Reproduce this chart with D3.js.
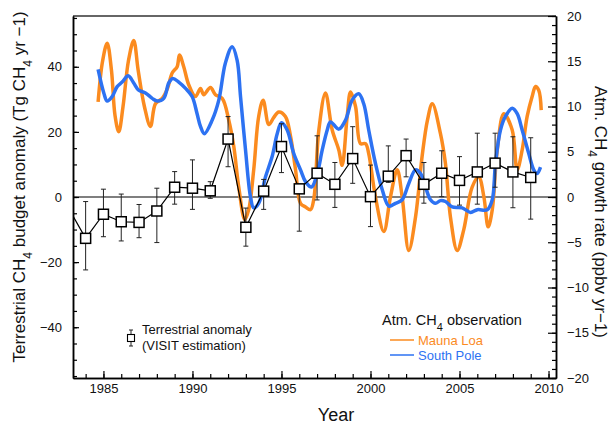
<!DOCTYPE html>
<html>
<head>
<meta charset="utf-8">
<script src="https://cdn.jsdelivr.net/npm/d3@7"></script>
<style>
    body { margin: 0; background: #fff; }
    text { font-family: "Liberation Sans", Arial, sans-serif; fill: #111; }
</style>
</head>
<body>
<div id="chart"></div>
<script>
// terrestrial anomaly (VISIT), Tg CH4 / yr, with error bar ends
const anomalyYears = d3.range(1983, 2010);
const anomaly = [-3, -12.7, -5.3, -7.6, -7.8, -4.3, 3.0, 2.7, 1.9, 17.8, -9.3, 1.8, 15.5, 2.5, 7.3, 3.9, 11.8, 0.1, 6.4, 12.7, 3.9, 7.3, 5.1, 7.7, 10.4, 7.7, 6.0];
const anomalyHigh = [5, -1.4, 2.4, 0.9, -2.3, 2.7, 7.8, 11.4, 4.7, 24.7, -3.4, 5.4, 22.5, 3.5, 18.8, 10.6, 21.6, 9.8, 15.7, 17.8, 10.6, 14.2, 12.4, 19.6, 19.6, 18.5, 18.2];
const anomalyLow = [-11, -22.4, -12.2, -13.5, -12.5, -14, -2.2, -3.8, -0.4, 9.3, -15.1, -3.8, 7.5, -10.5, -0.9, -3.2, 4.2, -9.1, 4.5, 6.2, -1.9, 0.1, -2.5, -2.2, 3.0, -3.3, -6.8];

// atmospheric CH4 growth rate, ppbv / yr  [year, rate]
const maunaLoa = [
    [1984.70, 10.5], [1984.95, 15.0], [1985.21, 17.0], [1985.45, 14.0], [1985.65, 9.0], [1985.86, 7.2],
    [1986.10, 10.0], [1986.40, 15.0], [1986.70, 17.3], [1986.95, 14.0], [1987.30, 10.0], [1987.64, 7.8],
    [1987.92, 10.3], [1988.30, 10.9], [1988.60, 12.0], [1988.86, 13.7], [1989.14, 14.4], [1989.27, 15.7],
    [1989.51, 14.4], [1989.79, 12.4], [1990.17, 11.1], [1990.45, 12.0], [1990.63, 11.3], [1991.01, 12.1],
    [1991.29, 11.3], [1991.67, 10.9], [1992.04, 8.5], [1992.32, 5.6], [1992.60, 1.1], [1992.94, -2.5],
    [1993.16, -1.4], [1993.44, 3.0], [1993.72, 8.9], [1993.97, 10.7], [1994.29, 8.0], [1994.57, 8.8],
    [1994.85, 9.4], [1995.22, 8.9], [1995.51, 6.7], [1995.79, 3.0], [1996.07, -0.7], [1996.35, -1.1],
    [1996.63, -1.4], [1996.81, -0.3], [1997.10, 7.4], [1997.47, 11.5], [1997.85, 7.4], [1998.22, 5.2],
    [1998.41, 3.5], [1998.69, 8.9], [1998.88, 11.6], [1999.16, 10.0], [1999.44, 5.9], [1999.72, 5.9],
    [1999.90, 4.8], [2000.28, 0.0], [2000.75, -3.8], [2001.12, 0.0], [2001.50, 3.0], [2001.78, 0.0],
    [2002.15, -5.9], [2002.53, -2.2], [2002.90, 4.5], [2003.20, 8.5], [2003.47, 10.3], [2003.93, 7.0],
    [2004.21, 3.7], [2004.49, -2.2], [2004.87, -5.9], [2005.24, -3.6], [2005.71, 1.1], [2006.08, 2.2],
    [2006.37, 0.0], [2006.61, -3.3], [2006.84, -1.4], [2007.12, 5.2], [2007.49, 9.2], [2007.96, 7.4],
    [2008.24, 3.0], [2008.52, 5.2], [2008.80, 8.9], [2009.08, 11.1], [2009.27, 12.2], [2009.45, 11.8],
    [2009.59, 9.6]
];
const southPole = [
    [1984.70, 14.1], [1985.02, 11.5], [1985.21, 10.6], [1985.49, 11.1], [1985.77, 12.2], [1986.05, 12.7],
    [1986.39, 13.4], [1986.70, 12.6], [1986.98, 11.8], [1987.36, 11.5], [1987.74, 10.9], [1988.02, 10.6],
    [1988.39, 10.9], [1988.67, 12.6], [1988.89, 13.1], [1989.23, 12.7], [1989.61, 12.0], [1989.98, 11.1],
    [1990.26, 9.2], [1990.45, 7.8], [1990.67, 7.0], [1991.11, 8.5], [1991.48, 10.7], [1991.85, 14.8],
    [1992.23, 16.6], [1992.51, 15.1], [1992.70, 11.1], [1992.98, 5.2], [1993.26, 0.0], [1993.44, -1.2],
    [1993.72, -0.7], [1994.10, 2.2], [1994.48, 4.5], [1994.76, 7.0], [1995.00, 8.2], [1995.32, 7.4],
    [1995.69, 4.8], [1996.07, 3.0], [1996.35, 1.7], [1996.69, 1.1], [1997.01, 2.6], [1997.29, 5.2],
    [1997.57, 7.4], [1997.75, 8.3], [1998.22, 7.5], [1998.60, 8.5], [1998.97, 10.7], [1999.34, 11.4],
    [1999.62, 10.3], [1999.90, 7.4], [2000.28, 3.7], [2000.66, 0.8], [2001.03, -1.0], [2001.40, -0.7],
    [2001.78, -0.3], [2002.15, 1.5], [2002.53, 3.0], [2002.81, 2.6], [2003.09, 1.1], [2003.37, -0.3],
    [2003.65, -0.7], [2003.93, -0.4], [2004.21, -0.5], [2004.59, -1.1], [2005.15, -1.2], [2005.62, -1.7],
    [2006.00, -1.4], [2006.56, -1.4], [2006.84, -0.3], [2007.02, 3.7], [2007.30, 7.4], [2007.58, 8.9],
    [2007.96, 9.8], [2008.24, 9.2], [2008.52, 7.4], [2008.89, 4.8], [2009.17, 3.0], [2009.36, 2.6],
    [2009.55, 3.3]
];

const xTickLabels = [1985, 1990, 1995, 2000, 2005, 2010];
const leftTickLabels = [-40, -20, 0, 20, 40];
const rightTickLabels = [-20, -15, -10, -5, 0, 5, 10, 15, 20];

const orange = "#fb8b1f";
const blue = "#2d72f2";

const width = 611, height = 424;
const margin = { top: 16, right: 55, bottom: 46, left: 73 };
const x0 = margin.left, x1 = width - margin.right;
const y0 = margin.top, y1 = height - margin.bottom;

const svg = d3.select("#chart").append("svg")
    .attr("width", width)
    .attr("height", height);

const x = d3.scaleLinear().domain([1983.29, 2010.42]).range([x0, x1]);
const yL = d3.scaleLinear().domain([-55.6, 55.6]).range([y1, y0]); // 1 ppbv ~ 2.78 Tg
const yR = d3.scaleLinear().domain([-20, 20]).range([y1, y0]);

svg.append("clipPath").attr("id", "plotClip")
    .append("rect")
    .attr("x", x0).attr("y", y0)
    .attr("width", x1 - x0).attr("height", y1 - y0);

// top frame line
svg.append("line")
    .attr("x1", x0).attr("x2", x1)
    .attr("y1", y0).attr("y2", y0)
    .attr("stroke", "#333").attr("stroke-width", 1.5);

// zero line
svg.append("line")
    .attr("x1", x0).attr("x2", x1)
    .attr("y1", yL(0)).attr("y2", yL(0))
    .attr("stroke", "#000").attr("stroke-width", 1.2);

function styleAxis(g) {
    g.selectAll("path.domain").attr("stroke", "#000").attr("stroke-width", 1.5);
    g.selectAll(".tick line").attr("stroke", "#000").attr("stroke-width", 1.2);
    g.selectAll("text").style("font-family", '"Liberation Sans", Arial, sans-serif')
        .style("font-size", "13px").attr("fill", "#111");
}

// x axis: minor ticks every year, labels every 5
svg.append("g")
    .attr("transform", `translate(0,${y1})`)
    .call(d3.axisBottom(x).tickValues(d3.range(1984, 2011)).tickSize(-4).tickSizeOuter(0).tickFormat(""))
    .call(styleAxis);
svg.append("g")
    .attr("transform", `translate(0,${y1})`)
    .call(d3.axisBottom(x).tickValues(xTickLabels).tickSize(-7).tickSizeOuter(0).tickPadding(6).tickFormat(d3.format("d")))
    .call(styleAxis);

// left axis
svg.append("g")
    .attr("transform", `translate(${x0},0)`)
    .call(d3.axisLeft(yL).tickValues(d3.range(-55, 56, 5)).tickSize(-4).tickSizeOuter(0).tickFormat(""))
    .call(styleAxis);
svg.append("g")
    .attr("transform", `translate(${x0},0)`)
    .call(d3.axisLeft(yL).tickValues(leftTickLabels).tickSize(-6).tickSizeOuter(0).tickPadding(11))
    .call(styleAxis);

// right axis
svg.append("g")
    .attr("transform", `translate(${x1},0)`)
    .call(d3.axisRight(yR).tickValues(d3.range(-20, 21, 1)).tickSize(-4).tickSizeOuter(0).tickFormat(""))
    .call(styleAxis);
svg.append("g")
    .attr("transform", `translate(${x1},0)`)
    .call(d3.axisRight(yR).tickValues(rightTickLabels).tickSize(-8).tickSizeOuter(0).tickPadding(11))
    .call(styleAxis);

const plot = svg.append("g").attr("clip-path", "url(#plotClip)");

// observation curves
const rateLine = d3.line()
    .x(d => x(d[0]))
    .y(d => yR(d[1]))
    .curve(d3.curveCatmullRom.alpha(0.5));

plot.append("path").datum(maunaLoa)
    .attr("d", rateLine)
    .attr("fill", "none").attr("stroke", orange)
    .attr("stroke-width", 3.5).attr("stroke-linejoin", "round");

plot.append("path").datum(southPole)
    .attr("d", rateLine)
    .attr("fill", "none").attr("stroke", blue)
    .attr("stroke-width", 3.5).attr("stroke-linejoin", "round");

// terrestrial anomaly
const anomalyData = anomalyYears.map((yr, i) => ({
    year: yr, value: anomaly[i], hi: anomalyHigh[i], lo: anomalyLow[i]
}));

const bars = plot.append("g").attr("stroke", "#222").attr("stroke-width", 1);
bars.selectAll("line.err")
    .data(anomalyData).enter().append("line")
    .attr("class", "err")
    .attr("x1", d => x(d.year)).attr("x2", d => x(d.year))
    .attr("y1", d => yL(d.hi)).attr("y2", d => yL(d.lo));
bars.selectAll("line.capHi")
    .data(anomalyData).enter().append("line")
    .attr("x1", d => x(d.year) - 2.5).attr("x2", d => x(d.year) + 2.5)
    .attr("y1", d => yL(d.hi)).attr("y2", d => yL(d.hi));
bars.selectAll("line.capLo")
    .data(anomalyData).enter().append("line")
    .attr("x1", d => x(d.year) - 2.5).attr("x2", d => x(d.year) + 2.5)
    .attr("y1", d => yL(d.lo)).attr("y2", d => yL(d.lo));

plot.append("path").datum(anomalyData)
    .attr("d", d3.line().x(d => x(d.year)).y(d => yL(d.value)))
    .attr("fill", "none").attr("stroke", "#000").attr("stroke-width", 1.2);

plot.selectAll("rect.marker")
    .data(anomalyData).enter().append("rect")
    .attr("class", "marker")
    .attr("x", d => x(d.year) - 5).attr("y", d => yL(d.value) - 5)
    .attr("width", 10).attr("height", 10)
    .attr("fill", "#fff").attr("stroke", "#000").attr("stroke-width", 1.5);

// axis titles
const leftTitle = svg.append("text")
    .attr("transform", "translate(25,187) rotate(-90)")
    .attr("text-anchor", "middle")
    .style("font-size", "17px");
leftTitle.append("tspan").text("Terrestrial CH");
leftTitle.append("tspan").text("4").attr("baseline-shift", "sub").style("font-size", "12px");
leftTitle.append("tspan").text(" budget anomaly (Tg CH");
leftTitle.append("tspan").text("4").attr("baseline-shift", "sub").style("font-size", "12px");
leftTitle.append("tspan").text(" yr \u22121)");

const rightTitle = svg.append("text")
    .attr("transform", "translate(595,212) rotate(90)")
    .attr("text-anchor", "middle")
    .style("font-size", "17px");
rightTitle.append("tspan").text("Atm. CH");
rightTitle.append("tspan").text("4").attr("baseline-shift", "sub").style("font-size", "12px");
rightTitle.append("tspan").text(" growth rate (ppbv yr\u22121)");

svg.append("text")
    .attr("x", 336).attr("y", 421)
    .attr("text-anchor", "middle")
    .style("font-size", "18px")
    .text("Year");

// legend: terrestrial anomaly
const lg = svg.append("g");
lg.append("line").attr("x1", 131).attr("x2", 131).attr("y1", 330).attr("y2", 346)
    .attr("stroke", "#222").attr("stroke-width", 1);
lg.append("line").attr("x1", 129).attr("x2", 133).attr("y1", 330).attr("y2", 330).attr("stroke", "#222");
lg.append("line").attr("x1", 129).attr("x2", 133).attr("y1", 346).attr("y2", 346).attr("stroke", "#222");
lg.append("rect").attr("x", 127.5).attr("y", 334.5).attr("width", 7).attr("height", 7)
    .attr("fill", "#fff").attr("stroke", "#000").attr("stroke-width", 1.1);
lg.append("text").attr("x", 142).attr("y", 334).style("font-size", "13px").text("Terrestrial anomaly");
lg.append("text").attr("x", 142).attr("y", 350).style("font-size", "13px").text("(VISIT estimation)");

// legend: observations
const obs = svg.append("text").attr("x", 382).attr("y", 325).style("font-size", "14.5px");
obs.append("tspan").text("Atm. CH");
obs.append("tspan").text("4").attr("baseline-shift", "sub").style("font-size", "11px");
obs.append("tspan").text(" observation");

[["Mauna Loa", orange, 340], ["South Pole", blue, 355]].forEach(([name, color, yy]) => {
    svg.append("line").attr("x1", 390).attr("x2", 414).attr("y1", yy).attr("y2", yy)
        .attr("stroke", color).attr("stroke-width", 1.5);
    svg.append("text").attr("x", 418).attr("y", yy + 4.5)
        .style("font-size", "13px").style("fill", color).text(name);
});
</script>
</body>
</html>
